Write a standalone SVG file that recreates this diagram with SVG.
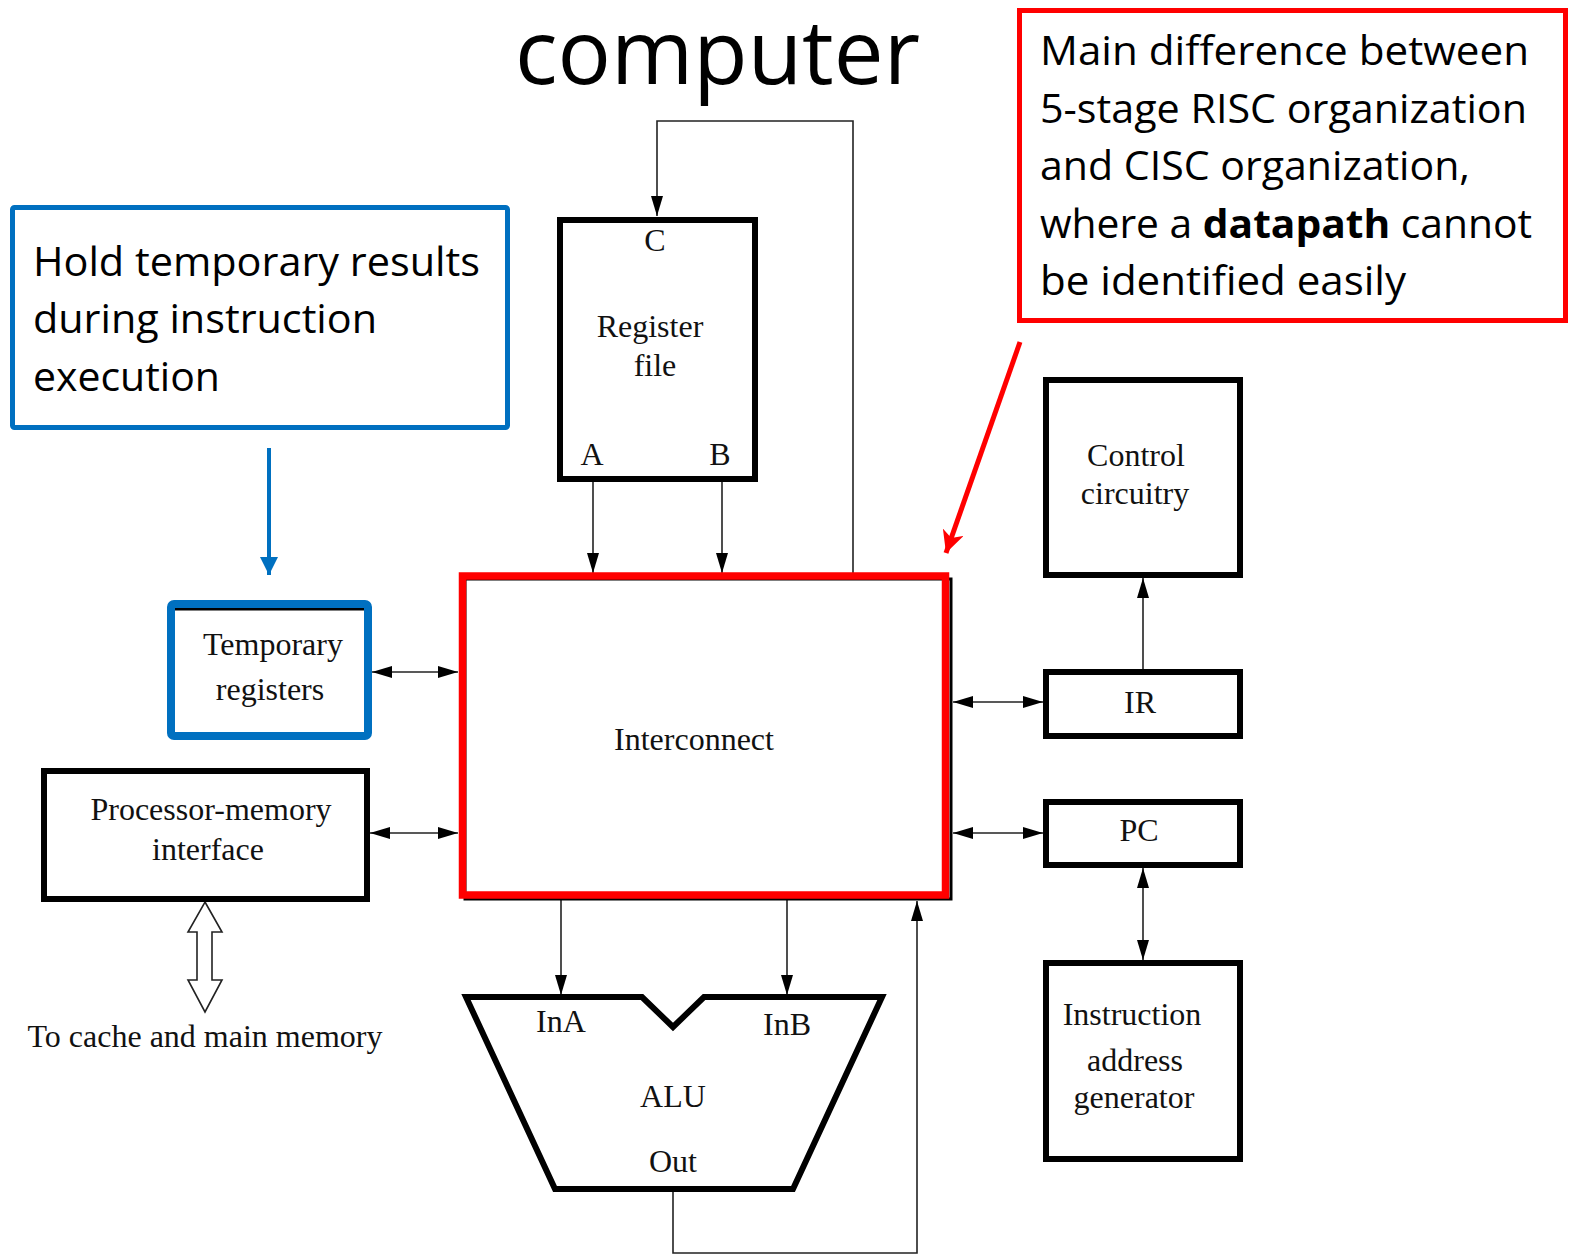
<svg xmlns="http://www.w3.org/2000/svg" width="1569" height="1255" viewBox="0 0 1569 1255">
<style>
.box{fill:#fff;stroke:#000;stroke-width:6}
.lbl{font-family:"Liberation Serif","Times New Roman",serif;font-size:32px;fill:#111;text-anchor:middle}
.ann{font-family:"Open Sans","Noto Sans","Liberation Sans",sans-serif;font-size:40px;fill:#000}
.wire{fill:none;stroke:#222;stroke-width:1.6}
</style>
<defs>
<marker id="ah" markerUnits="userSpaceOnUse" markerWidth="20" markerHeight="12" refX="20" refY="6" orient="auto-start-reverse">
<path d="M0,0 L20,6 L0,12 z" fill="#000"/>
</marker>
<marker id="ahb" markerUnits="userSpaceOnUse" markerWidth="20" markerHeight="20" refX="18" refY="9" orient="auto">
<path d="M0,0 L18,9 L0,18 z" fill="#0070C0"/>
</marker>
<marker id="ahr" markerUnits="userSpaceOnUse" markerWidth="24" markerHeight="22" refX="22" refY="11" orient="auto">
<path d="M0,0 L22,11 L0,22 L6,11 z" fill="#FF0000"/>
</marker>
</defs>

<text x="515" y="84" font-family="'Open Sans','Noto Sans','Liberation Sans',sans-serif" font-size="90" textLength="405" lengthAdjust="spacingAndGlyphs">computer</text>

<g id="connectors">
<polyline class="wire" points="853,573 853,121 657,121 657,216" marker-end="url(#ah)"/>
<line class="wire" x1="593" y1="482" x2="593" y2="573" marker-end="url(#ah)"/>
<line class="wire" x1="722" y1="482" x2="722" y2="573" marker-end="url(#ah)"/>
<line class="wire" x1="372" y1="672" x2="458" y2="672" marker-start="url(#ah)" marker-end="url(#ah)"/>
<line class="wire" x1="370" y1="833" x2="458" y2="833" marker-start="url(#ah)" marker-end="url(#ah)"/>
<line class="wire" x1="953" y1="702" x2="1043" y2="702" marker-start="url(#ah)" marker-end="url(#ah)"/>
<line class="wire" x1="953" y1="833" x2="1043" y2="833" marker-start="url(#ah)" marker-end="url(#ah)"/>
<line class="wire" x1="1143" y1="669" x2="1143" y2="578" marker-end="url(#ah)"/>
<line class="wire" x1="1143" y1="868" x2="1143" y2="960" marker-start="url(#ah)" marker-end="url(#ah)"/>
<line class="wire" x1="561" y1="900" x2="561" y2="995" marker-end="url(#ah)"/>
<line class="wire" x1="787" y1="900" x2="787" y2="995" marker-end="url(#ah)"/>
<polyline class="wire" points="673,1192 673,1253 917,1253 917,901" marker-end="url(#ah)"/>
<polygon points="205,902 222,932 212,932 212,980 222,980 205,1012 188,980 197,980 197,932 188,932" fill="#fff" stroke="#222" stroke-width="1.6"/>
<line x1="269" y1="448" x2="269" y2="575" stroke="#0070C0" stroke-width="4" marker-end="url(#ahb)"/>
<line x1="1020" y1="342" x2="946" y2="553" stroke="#FF0000" stroke-width="5" marker-end="url(#ahr)"/>
</g>

<g id="register-file">
<rect class="box" x="560" y="220" width="195" height="259"/>
<text class="lbl" x="655" y="251">C</text>
<text class="lbl" x="650" y="337">Register</text>
<text class="lbl" x="655" y="376">file</text>
<text class="lbl" x="592" y="465">A</text>
<text class="lbl" x="720" y="465">B</text>
</g>

<g id="interconnect">
<rect x="465" y="579" width="486" height="320" fill="#fff" stroke="#000" stroke-width="3"/>
<rect x="462.5" y="576" width="483" height="319" fill="none" stroke="#FF0000" stroke-width="7.5"/>
<text class="lbl" x="694" y="750">Interconnect</text>
</g>

<g id="temporary-registers">
<rect x="171" y="609" width="197" height="127" fill="#fff" stroke="#000" stroke-width="3"/>
<rect x="171" y="604" width="197" height="132" rx="3" fill="none" stroke="#0070C0" stroke-width="8"/>
<text class="lbl" x="273" y="655">Temporary</text>
<text class="lbl" x="270" y="700">registers</text>
</g>

<g id="processor-memory-interface">
<rect class="box" x="44" y="771" width="323" height="128"/>
<text class="lbl" x="211" y="820">Processor-memory</text>
<text class="lbl" x="208" y="860">interface</text>
</g>

<g id="memory-label">
<text class="lbl" x="205" y="1047">To cache and main memory</text>
</g>

<g id="alu">
<polygon points="466,997 642,997 673,1027 704,997 882,997 793,1189 555,1189" fill="#fff" stroke="#000" stroke-width="6"/>
<text class="lbl" x="561" y="1032">InA</text>
<text class="lbl" x="787" y="1035">InB</text>
<text class="lbl" x="673" y="1107">ALU</text>
<text class="lbl" x="673" y="1172">Out</text>
</g>

<g id="control-circuitry">
<rect class="box" x="1046" y="380" width="194" height="195"/>
<text class="lbl" x="1136" y="466">Control</text>
<text class="lbl" x="1135" y="504">circuitry</text>
</g>

<g id="ir">
<rect class="box" x="1046" y="672" width="194" height="64"/>
<text class="lbl" x="1140" y="713">IR</text>
</g>

<g id="pc">
<rect class="box" x="1046" y="802" width="194" height="63"/>
<text class="lbl" x="1139" y="841">PC</text>
</g>

<g id="instruction-address-generator">
<rect class="box" x="1046" y="963" width="194" height="196"/>
<text class="lbl" x="1132" y="1025">Instruction</text>
<text class="lbl" x="1135" y="1071">address</text>
<text class="lbl" x="1134" y="1108">generator</text>
</g>

<g id="note-temporary">
<rect x="12.5" y="207.5" width="495" height="220" rx="2" fill="#fff" stroke="#0070C0" stroke-width="5"/>
<text class="ann" x="33" y="276" textLength="447" lengthAdjust="spacingAndGlyphs">Hold temporary results</text>
<text class="ann" x="33" y="333" textLength="344" lengthAdjust="spacingAndGlyphs">during instruction</text>
<text class="ann" x="33" y="391" textLength="187" lengthAdjust="spacingAndGlyphs">execution</text>
</g>

<g id="note-datapath">
<rect x="1019.5" y="10.5" width="546" height="310" fill="#fff" stroke="#FF0000" stroke-width="5"/>
<text class="ann" x="1040" y="65" textLength="489" lengthAdjust="spacingAndGlyphs">Main difference between</text>
<text class="ann" x="1040" y="123" textLength="487" lengthAdjust="spacingAndGlyphs">5-stage RISC organization</text>
<text class="ann" x="1040" y="180" textLength="430" lengthAdjust="spacingAndGlyphs">and CISC organization,</text>
<text class="ann" x="1040" y="238" textLength="492" lengthAdjust="spacingAndGlyphs">where a <tspan font-weight="bold">datapath</tspan> cannot</text>
<text class="ann" x="1040" y="295" textLength="366" lengthAdjust="spacingAndGlyphs">be identified easily</text>
</g>
</svg>
